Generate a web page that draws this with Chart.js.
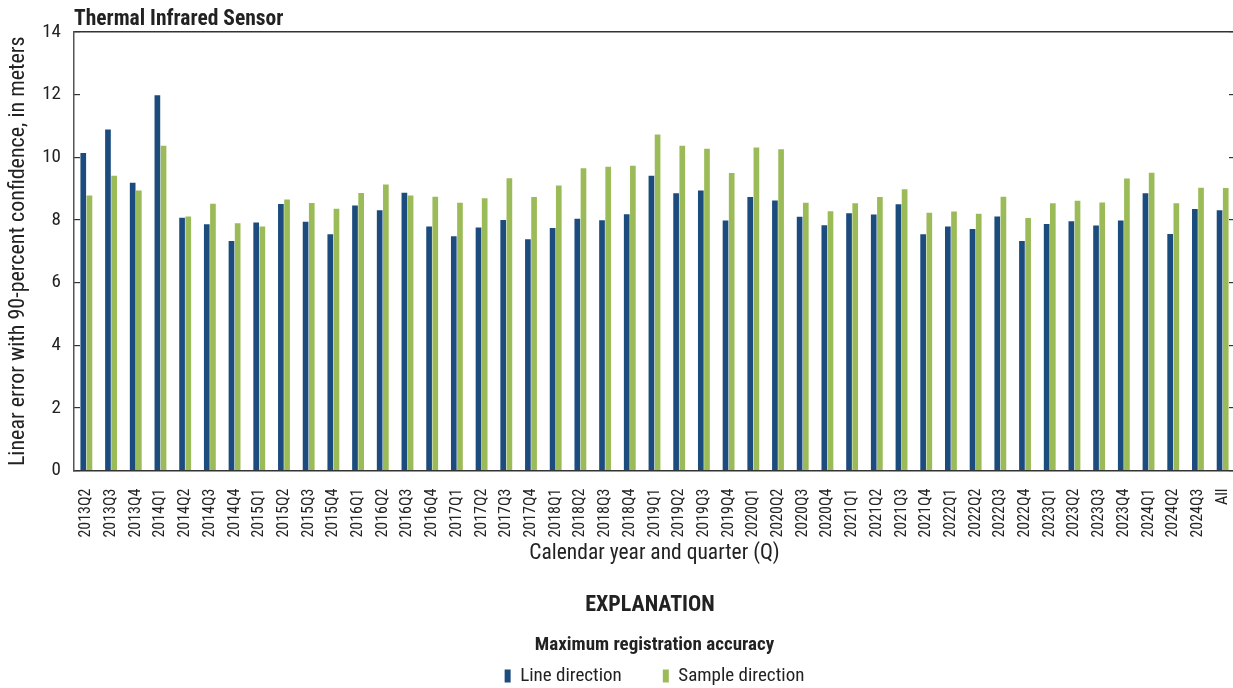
<!DOCTYPE html>
<html>
<head>
<meta charset="utf-8">
<script src="https://cdn.jsdelivr.net/npm/chart.js@4"></script>
<style>
  body { margin: 0; background: #fff; }
  #wrap { position: relative; width: 1233px; height: 688px; overflow: hidden; }
  #chart { position: absolute; left: 0; top: 0; }
  .txt { position: absolute; font-family: 'Liberation Sans Narrow', 'Roboto Condensed', Roboto, sans-serif; color: #222; font-weight: bold; white-space: nowrap; }
  #title { left: 74px; top: 5px; font-size: 21.5px; }
  #expl { left: 550px; width: 200px; top: 591px; font-size: 22px; text-align: center; }
</style>
</head>
<body>
<div id="wrap">
  <canvas id="chart" width="1238" height="688"></canvas>
  <div class="txt" id="title">Thermal Infrared Sensor</div>
  <div class="txt" id="expl">EXPLANATION</div>
</div>
<script>
// quarters
const categories = ['2013Q2', '2013Q3', '2013Q4',
  '2014Q1', '2014Q2', '2014Q3', '2014Q4',
  '2015Q1', '2015Q2', '2015Q3', '2015Q4',
  '2016Q1', '2016Q2', '2016Q3', '2016Q4',
  '2017Q1', '2017Q2', '2017Q3', '2017Q4',
  '2018Q1', '2018Q2', '2018Q3', '2018Q4',
  '2019Q1', '2019Q2', '2019Q3', '2019Q4',
  '2020Q1', '2020Q2', '2020Q3', '2020Q4',
  '2021Q1', '2021Q2', '2021Q3', '2021Q4',
  '2022Q1', '2022Q2', '2022Q3', '2022Q4',
  '2023Q1', '2023Q2', '2023Q3', '2023Q4',
  '2024Q1', '2024Q2', '2024Q3', 'All'];

// linear error, meters
const lineDirection = [10.14, 10.89, 9.19,
  11.98, 8.07, 7.86, 7.33,
  7.92, 8.51, 7.94, 7.54,
  8.46, 8.31, 8.87, 7.79,
  7.48, 7.76, 8.0, 7.38,
  7.74, 8.04, 7.99, 8.18,
  9.41, 8.85, 8.94, 7.98,
  8.73, 8.62, 8.1, 7.83,
  8.21, 8.17, 8.5, 7.54,
  7.79, 7.71, 8.11, 7.33,
  7.87, 7.96, 7.82, 7.98,
  8.85, 7.55, 8.35, 8.31];

const sampleDirection = [8.78, 9.41, 8.94,
  10.37, 8.11, 8.52, 7.89,
  7.79, 8.65, 8.54, 8.36,
  8.86, 9.13, 8.78, 8.74,
  8.55, 8.69, 9.33, 8.73,
  9.1, 9.65, 9.7, 9.73,
  10.73, 10.37, 10.27, 9.5,
  10.31, 10.26, 8.55, 8.28,
  8.53, 8.73, 8.98, 8.23,
  8.27, 8.2, 8.74, 8.06,
  8.53, 8.61, 8.56, 9.32,
  9.51, 8.53, 9.03, 9.02];

const yTicks = [0, 2, 4, 6, 8, 10, 12, 14];

const FONT = "'Liberation Sans Narrow', 'Roboto Condensed', Roboto, sans-serif";
const INK = '#222';
Chart.defaults.font.family = FONT;
Chart.defaults.color = INK;

new Chart(document.getElementById('chart'), {
  type: 'bar',
  data: {
    labels: categories,
    datasets: [{
      label: 'Line direction',
      data: lineDirection,
      backgroundColor: '#1c4b7e',
      xAxisID: 'x', yAxisID: 'y'
    }, {
      label: 'Sample direction',
      data: sampleDirection,
      backgroundColor: '#9bbb59',
      xAxisID: 'x', yAxisID: 'y'
    }]
  },
  options: {
    responsive: false,
    animation: false,
    datasets: { bar: { categoryPercentage: 0.5, barPercentage: 0.92 } },
    layout: { padding: { top: 32, left: 0, right: 0, bottom: -7.5 } },
    scales: {
      x: {
        position: 'bottom',
        grid: { display: false },
        border: { display: true, color: '#333', width: 1.5 },
        ticks: { autoSkip: false, minRotation: 90, maxRotation: 90, padding: 10, font: { size: 16 }, color: INK },
        title: { display: true, text: 'Calendar year and quarter (Q)', font: { size: 21.5 }, color: INK, padding: { top: 0, bottom: 0 } },
        afterFit: s => { s.height = 96; s.paddingLeft = 0; s.paddingRight = 0; }
      },
      xTop: {
        type: 'category',
        position: 'top',
        labels: categories,
        grid: { display: false },
        ticks: { display: false },
        border: { display: true, color: '#333', width: 1.5 },
        afterFit: s => { s.height = 0; s.paddingLeft = 0; s.paddingRight = 0; }
      },
      y: {
        min: 0, max: 14,
        afterBuildTicks: s => { s.ticks = yTicks.map(v => ({ value: v })); },
        grid: { drawOnChartArea: false, tickLength: -6, color: '#333', lineWidth: 1.2 },
        border: { display: true, color: '#555', width: 1.5 },
        ticks: { padding: 19, font: { size: 19 }, color: INK },
        title: { display: true, text: 'Linear error with 90-percent confidence, in meters', font: { size: 22 }, color: INK, padding: { top: 5, bottom: 0 } },
        afterFit: s => { s.width = 74; }
      },
      yRight: {
        position: 'right',
        min: 0, max: 14,
        afterBuildTicks: s => { s.ticks = yTicks.map(v => ({ value: v })); },
        grid: { drawOnChartArea: false, tickLength: -6, color: '#333', lineWidth: 1.2 },
        border: { display: true, color: '#555', width: 1.5 },
        ticks: { display: false },
        afterFit: s => { s.width = 3; }
      }
    },
    plugins: {
      tooltip: { enabled: false },
      legend: {
        position: 'bottom',
        fullSize: false,
        labels: { boxWidth: 6, boxHeight: 13, padding: 41, font: { size: 19 }, color: INK },
        title: {
          display: true,
          text: 'Maximum registration accuracy',
          font: { size: 19, weight: 'bold' },
          color: INK,
          padding: { top: 69, bottom: -32.8 }
        }
      }
    }
  }
});
</script>
</body>
</html>
